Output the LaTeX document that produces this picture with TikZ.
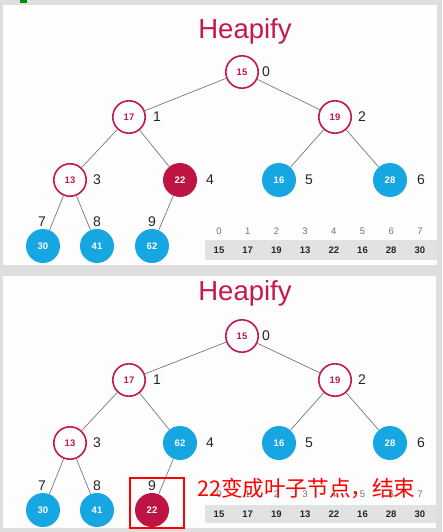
\documentclass[tikz,border=0pt]{standalone}
\usepackage{fontspec}
\setmainfont{Liberation Sans}
\newfontfamily\cjk{Noto Sans CJK SC}
\definecolor{crim}{RGB}{196,24,78}
\definecolor{crimfill}{RGB}{190,20,68}
\definecolor{hblue}{RGB}{22,166,226}
\definecolor{edgegray}{RGB}{120,120,120}
\definecolor{bggray}{RGB}{222,222,222}
\definecolor{bargray}{RGB}{226,226,226}
\definecolor{panelw}{RGB}{253,253,253}
\tikzset{
  nd/.style={circle, minimum size=34pt, inner sep=0pt, font=\fontsize{9.5}{9.5}\selectfont\bfseries},
  hollow/.style={nd, draw=crim, line width=1.6pt, fill=white, text=crim, minimum size=32.4pt},
  redfull/.style={nd, fill=crimfill, text=white},
  bluenode/.style={nd, fill=hblue, text=white},
  poslbl/.style={inner sep=0pt, font=\fontsize{14}{14}\selectfont, text=black!85},
  idxlbl/.style={inner sep=0pt, font=\fontsize{9.5}{9.5}\selectfont, text=black!55},
  vallbl/.style={inner sep=0pt, font=\fontsize{9.5}{9.5}\selectfont\bfseries, text=black!85},
  ttl/.style={inner sep=0pt, font=\fontsize{27.5}{27.5}\selectfont, text=crim},
  connector/.style={draw=edgegray, line width=0.7pt}
}
\begin{document}
\begin{tikzpicture}[x=1pt,y=-1pt]
\useasboundingbox (0,0) rectangle (442,532);
\fill[bggray] (0,0) rectangle (442,532);
\fill[green!55!black] (20,0) rectangle (27,3);
% ---------- top panel ----------
\fill[panelw] (3,5) rectangle (437,265);
\node[ttl] (tT) at (245,31) {Heapify};
\node[hollow] (t0) at (242,72) {15};
\node[hollow] (t1) at (129,117) {17};
\node[hollow] (t2) at (335,117) {19};
\node[hollow] (t3) at (70,180) {13};
\node[redfull] (t4) at (180,180) {22};
\node[bluenode] (t5) at (279,180) {16};
\node[bluenode] (t6) at (390,180) {28};
\node[bluenode] (t7) at (43,246) {30};
\node[bluenode] (t8) at (97,246) {41};
\node[bluenode] (t9) at (152,246) {62};
\draw[connector] (t0) -- (t1); \draw[connector] (t0) -- (t2);
\draw[connector] (t1) -- (t3); \draw[connector] (t1) -- (t4);
\draw[connector] (t2) -- (t5); \draw[connector] (t2) -- (t6);
\draw[connector] (t3) -- (t7); \draw[connector] (t3) -- (t8);
\draw[connector] (t4) -- (t9);
\node[poslbl] (tl0) at (266,72) {0};
\node[poslbl] (tl1) at (157,117) {1};
\node[poslbl] (tl2) at (362,117) {2};
\node[poslbl] (tl3) at (97,180) {3};
\node[poslbl] (tl4) at (210,180) {4};
\node[poslbl] (tl5) at (309,180) {5};
\node[poslbl] (tl6) at (421,180) {6};
\node[poslbl] (tl7) at (42,222) {7};
\node[poslbl] (tl8) at (97,222) {8};
\node[poslbl] (tl9) at (152,222) {9};
\fill[bargray] (205,240) rectangle (437,260);
\foreach \i/\v in {0/15,1/17,2/19,3/13,4/22,5/16,6/28,7/30}{
  \node[idxlbl] (ti\i) at ({219+28.7*\i},231) {\i};
  \node[vallbl] (tv\i) at ({219+28.7*\i},250) {\v};
}
% ---------- bottom panel ----------
\fill[panelw] (3,276) rectangle (436,528);
\begin{scope}[shift={(0,263)}]
\node[ttl] (bT) at (245,30) {Heapify};
\node[hollow] (b0) at (242,73) {15};
\node[hollow] (b1) at (129,117) {17};
\node[hollow] (b2) at (335,117) {19};
\node[hollow] (b3) at (70,180) {13};
\node[bluenode] (b4) at (180,180) {62};
\node[bluenode] (b5) at (279,180) {16};
\node[bluenode] (b6) at (390,180) {28};
\node[bluenode] (b7) at (43,247) {30};
\node[bluenode] (b8) at (97,247) {41};
\node[redfull] (b9) at (152,247) {22};
\draw[connector] (b0) -- (b1); \draw[connector] (b0) -- (b2);
\draw[connector] (b1) -- (b3); \draw[connector] (b1) -- (b4);
\draw[connector] (b2) -- (b5); \draw[connector] (b2) -- (b6);
\draw[connector] (b3) -- (b7); \draw[connector] (b3) -- (b8);
\draw[connector] (b4) -- (b9);
\node[poslbl] (bl0) at (266,73) {0};
\node[poslbl] (bl1) at (157,117) {1};
\node[poslbl] (bl2) at (362,117) {2};
\node[poslbl] (bl3) at (97,180) {3};
\node[poslbl] (bl4) at (210,180) {4};
\node[poslbl] (bl5) at (309,180) {5};
\node[poslbl] (bl6) at (421,180) {6};
\node[poslbl] (bl7) at (42,223) {7};
\node[poslbl] (bl8) at (97,223) {8};
\node[poslbl] (bl9) at (152,223) {9};
\end{scope}
\fill[bargray] (205,505) rectangle (436,523);
\foreach \i/\v in {0/15,1/17,2/19,3/13,4/22,5/16,6/28,7/30}{
  \node[idxlbl] (bi\i) at ({219+28.7*\i},494) {\i};
  \node[vallbl] (bv\i) at ({219+28.7*\i},514) {\v};
}
\node[draw=red, line width=1.8pt, minimum width=54pt, minimum height=50pt, inner sep=0pt] (box) at (157,503) {};
\node[inner sep=0pt, anchor=west, text=red, font=\cjk\fontsize{21.6}{21.6}\selectfont] (note) at (197,488) {22变成叶子节点，结束};
\end{tikzpicture}
\end{document}
